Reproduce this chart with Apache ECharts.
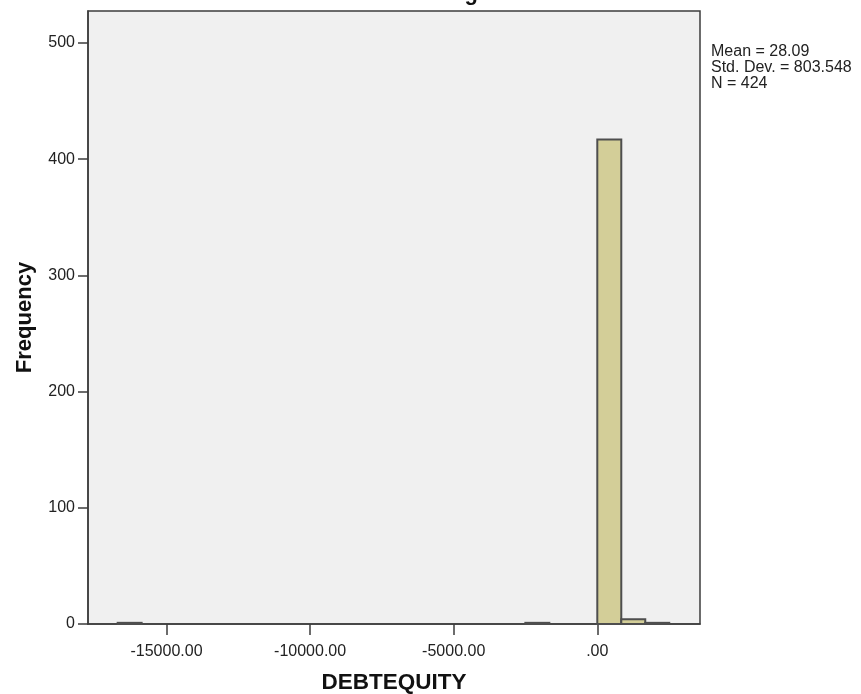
<!DOCTYPE html>
<html>
<head>
<meta charset="utf-8">
<script src="https://cdn.jsdelivr.net/npm/echarts@6/dist/echarts.min.js"></script>
<style>
html,body{margin:0;padding:0;background:#fff;}
#chart{width:861px;height:694px;}
</style>
</head>
<body>
<div id="chart"></div>
<script>
// ---- data ----
const binWidth = 835;
const binLow = [-16700, -2505, 0, 835, 1670];
const counts = [1, 1, 417, 4, 1];
const xTicks = [-15000, -10000, -5000, 0];
const xTickLabels = ['-15000.00', '-10000.00', '-5000.00', '.00'];
const yTicks = [0, 100, 200, 300, 400, 500];
const statsLines = ['Mean = 28.09', 'Std. Dev. = 803.548', 'N = 424'];
const titleText = 'Histogram';
const xName = 'DEBTEQUITY';
const yName = 'Frequency';

const FONT = '"Liberation Sans", Arial, sans-serif';
const barData = binLow.map((lo, i) => [lo, lo + binWidth, counts[i]]);

const chart = echarts.init(document.getElementById('chart'), null, {renderer: 'canvas'});
chart.setOption({
  animation: false,
  backgroundColor: '#ffffff',
  grid: {
    left: 88, right: 161, top: 11, bottom: 70,
    containLabel: false, outerBoundsMode: 'none',
    show: true, backgroundColor: '#f0f0f0',
    borderColor: '#3c3c3c', borderWidth: 1.5
  },
  xAxis: {
    type: 'value',
    min: -17733, max: 3576,
    name: xName, nameLocation: 'middle', nameGap: 47,
    nameTextStyle: {fontFamily: FONT, fontSize: 22.5, fontWeight: 'bold', color: '#111'},
    axisLine: {show: true, onZero: false, lineStyle: {color: '#3c3c3c', width: 1.5}},
    axisTick: {show: true, inside: false, length: 11, customValues: xTicks, lineStyle: {color: '#3c3c3c', width: 1.5}},
    axisLabel: {
      customValues: xTicks, margin: 20,
      fontFamily: FONT, fontSize: 16, color: '#222',
      formatter: v => xTickLabels[xTicks.indexOf(v)]
    },
    splitLine: {show: false}
  },
  yAxis: {
    type: 'value',
    min: 0, max: 527.5,
    name: yName, nameLocation: 'middle', nameGap: 52, nameRotate: 90,
    nameTextStyle: {fontFamily: FONT, fontSize: 22, fontWeight: 'bold', color: '#111'},
    axisLine: {show: true, onZero: false, lineStyle: {color: '#3c3c3c', width: 1.5}},
    axisTick: {show: true, inside: false, length: 10, customValues: yTicks, lineStyle: {color: '#3c3c3c', width: 1.5}},
    axisLabel: {customValues: yTicks, margin: 13, fontFamily: FONT, fontSize: 16, color: '#222'},
    splitLine: {show: false}
  },
  series: [{
    type: 'custom',
    data: barData,
    encode: {x: [0, 1], y: 2},
    renderItem: function (params, api) {
      const p0 = api.coord([api.value(0), api.value(2)]);
      const p1 = api.coord([api.value(1), 0]);
      return {
        type: 'rect',
        shape: {x: p0[0], y: p0[1], width: p1[0] - p0[0], height: p1[1] - p0[1]},
        style: {fill: '#d3ce98', stroke: '#4e4e4e', lineWidth: 2}
      };
    }
  }],
  graphic: [
    {
      type: 'text', left: 711, top: 44,
      style: {text: statsLines.join('\n'), font: '16px ' + FONT, fill: '#222', lineHeight: 16}
    },
    {
      type: 'text', x: 464, y: 5,
      style: {text: titleText, font: 'bold 22px ' + FONT, fill: '#111', align: 'center', verticalAlign: 'bottom'}
    }
  ]
});
</script>
</body>
</html>
